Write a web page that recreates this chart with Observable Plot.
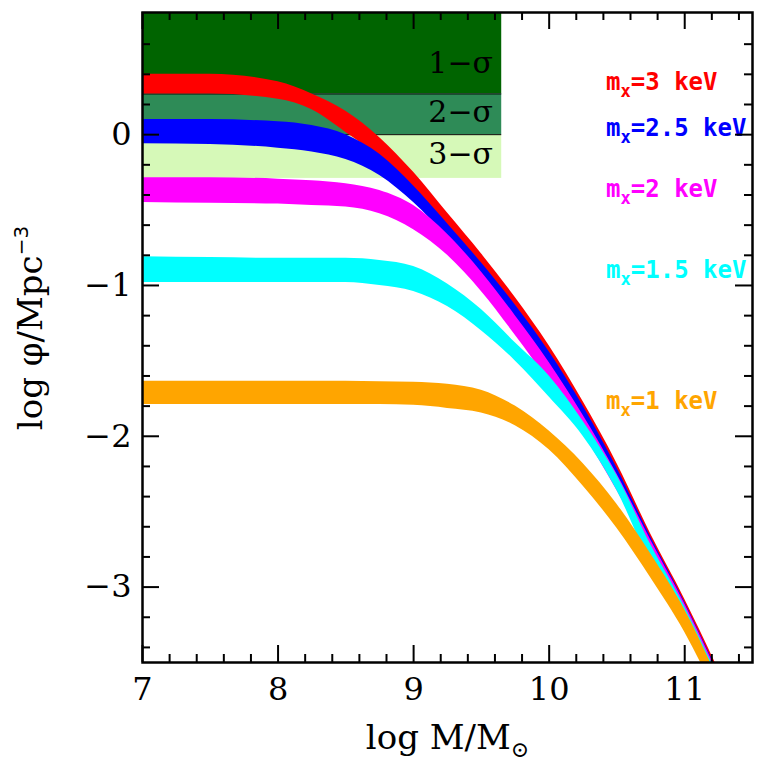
<!DOCTYPE html>
<html>
<head>
<meta charset="utf-8">
<script src="https://cdn.jsdelivr.net/npm/d3@7"></script>
<script src="https://cdn.jsdelivr.net/npm/@observablehq/plot@0.6"></script>
<style>
  html, body { margin: 0; padding: 0; background: #fff; }
</style>
</head>
<body>
<div id="chart"></div>
<script>
// ---- data ----
const logM = [7, 7.5, 8, 8.25, 8.5, 8.75, 9, 9.25, 9.5, 9.75, 10, 10.25, 10.5, 10.75, 11, 11.25, 11.5];

// m_x = 3 keV
const phi3Hi  = [0.40, 0.40, 0.35, 0.27, 0.155, -0.02, -0.25, -0.52, -0.79, -1.08, -1.40, -1.77, -2.18, -2.65, -3.08, -3.55, -4.05];
const phi3Lo  = [0.27, 0.27, 0.235, 0.165, 0.015, -0.15, -0.38, -0.64, -0.90, -1.18, -1.48, -1.83, -2.23, -2.68, -3.12, -3.59, -4.09];
// m_x = 2.5 keV
const phi25Hi = [0.10, 0.10, 0.085, 0.06, 0.0, -0.13, -0.34, -0.59, -0.85, -1.13, -1.44, -1.80, -2.21, -2.67, -3.10, -3.57, -4.07];
const phi25Lo = [-0.06, -0.065, -0.09, -0.115, -0.165, -0.27, -0.45, -0.68, -0.92, -1.21, -1.52, -1.87, -2.27, -2.71, -3.14, -3.61, -4.11];
// m_x = 2 keV
const phi2Hi  = [-0.285, -0.285, -0.295, -0.305, -0.325, -0.37, -0.47, -0.66, -0.91, -1.20, -1.51, -1.86, -2.25, -2.69, -3.11, -3.58, -4.08];
const phi2Lo  = [-0.45, -0.455, -0.46, -0.47, -0.48, -0.525, -0.63, -0.80, -1.04, -1.33, -1.64, -1.98, -2.36, -2.78, -3.19, -3.66, -4.16];
// m_x = 1.5 keV
const phi15Hi = [-0.81, -0.815, -0.82, -0.82, -0.82, -0.835, -0.875, -0.99, -1.16, -1.38, -1.60, -1.90, -2.26, -2.72, -3.13, -3.60, -4.11];
const phi15Lo = [-0.98, -0.98, -0.98, -0.98, -0.98, -1.00, -1.04, -1.14, -1.30, -1.50, -1.74, -2.00, -2.36, -2.85, -3.25, -3.72, -4.23];
// m_x = 1 keV
const phi1Hi  = [-1.635, -1.635, -1.635, -1.635, -1.635, -1.638, -1.642, -1.655, -1.695, -1.80, -1.965, -2.18, -2.45, -2.78, -3.15, -3.62, -4.15];
const phi1Lo  = [-1.79, -1.79, -1.79, -1.79, -1.79, -1.79, -1.795, -1.815, -1.845, -1.93, -2.09, -2.33, -2.61, -2.94, -3.30, -3.75, -4.28];

const massNames  = ["mx=3 keV", "mx=2.5 keV", "mx=2 keV", "mx=1.5 keV", "mx=1 keV"];
const massColors = ["#ff0000", "#0000ff", "#ff00ff", "#00ffff", "#ffa500"];
const massLabelX = 10.42;
const massLabelY = [0.347, 0.043, -0.363, -0.90, -1.77];

// observational constraint regions
const sigmaNames  = ["1\u2212\u03c3", "2\u2212\u03c3", "3\u2212\u03c3"];
const sigmaTop    = [1.0, 0.27, 0.0];
const sigmaBottom = [0.27, 0.0, -0.29];
const sigmaColors = ["#006400", "#2e8b57", "#d6f9b8"];
const sigmaXmin = 7, sigmaXmax = 9.65;
const sigmaLabelX = 9.586;
const sigmaLabelY = [0.474, 0.146, -0.13];
const sigmaEdges = [0.27, 0.0];

// axes
const xMajor = [7, 8, 9, 10, 11];
const xMinor = [7.2, 7.4, 7.6, 7.8, 8.2, 8.4, 8.6, 8.8, 9.2, 9.4, 9.6, 9.8, 10.2, 10.4, 10.6, 10.8, 11.2, 11.4];
const yMajor = [-3, -2, -1, 0];
const yMinor = [-3.4, -3.2, -2.8, -2.6, -2.4, -2.2, -1.8, -1.6, -1.4, -1.2, -0.8, -0.6, -0.4, -0.2, 0.2, 0.4, 0.6];
const xTitle = "log M/M\u2299";

// ---- layout ----
const W = 758, H = 770;
const mL = 142, mR = 6, mT = 12, mB = 108;
const innerW = W - mL - mR, innerH = H - mT - mB;
const majorLen = 17, minorLen = 8;

const hiSets = [phi3Hi, phi25Hi, phi2Hi, phi15Hi, phi1Hi];
const loSets = [phi3Lo, phi25Lo, phi2Lo, phi15Lo, phi1Lo];
const bandSeries = hiSets.map((hi, k) => ({
  color: massColors[k],
  rows: logM.map((x, i) => ({x, hi: hi[i], lo: loSets[k][i]}))
}));

const sigmaRows = sigmaNames.map((name, i) => ({name, top: sigmaTop[i], bottom: sigmaBottom[i], color: sigmaColors[i], lx: sigmaLabelX, ly: sigmaLabelY[i]}));
const massRows = massNames.map((name, i) => ({name, x: massLabelX, y: massLabelY[i], color: massColors[i]}));

const fmt = d => (d < 0 ? "\u2212" + Math.abs(d) : String(d));
const serif = "DejaVu Serif";

const marks = [];
sigmaRows.forEach(s => {
  marks.push(Plot.rect([s], {x1: sigmaXmin, x2: sigmaXmax, y1: "bottom", y2: "top", fill: s.color, clip: true}));
});
marks.push(Plot.ruleY(sigmaEdges, {x1: sigmaXmin, x2: sigmaXmax, stroke: "#000", strokeWidth: 1}));
bandSeries.forEach(b => {
  marks.push(Plot.areaY(b.rows, {x: "x", y1: "lo", y2: "hi", fill: b.color, curve: "monotone-x", clip: true}));
});
marks.push(Plot.text(sigmaRows, {x: "lx", y: "ly", text: "name", textAnchor: "end", fontFamily: serif, fontSize: 30, fill: "#000"}));
massRows.forEach(m => {
  marks.push(Plot.text([m], {x: "x", y: "y", text: "name", textAnchor: "start", fontFamily: "DejaVu Sans Mono", fontWeight: "bold", fontSize: 24, fill: m.color}));
});
marks.push(
  Plot.ruleX(xMajor, {x: d => d, insetTop: innerH - majorLen, stroke: "#000", strokeWidth: 2}),
  Plot.ruleX(xMinor, {x: d => d, insetTop: innerH - minorLen, stroke: "#000", strokeWidth: 2}),
  Plot.ruleX(xMajor, {x: d => d, insetBottom: innerH - majorLen, stroke: "#000", strokeWidth: 2}),
  Plot.ruleX(xMinor, {x: d => d, insetBottom: innerH - minorLen, stroke: "#000", strokeWidth: 2}),
  Plot.ruleY(yMajor, {y: d => d, insetRight: innerW - majorLen, stroke: "#000", strokeWidth: 2}),
  Plot.ruleY(yMinor, {y: d => d, insetRight: innerW - minorLen, stroke: "#000", strokeWidth: 2}),
  Plot.ruleY(yMajor, {y: d => d, insetLeft: innerW - majorLen, stroke: "#000", strokeWidth: 2}),
  Plot.ruleY(yMinor, {y: d => d, insetLeft: innerW - minorLen, stroke: "#000", strokeWidth: 2}),
  Plot.frame({stroke: "#000", strokeWidth: 2.5})
);
marks.push(
  Plot.text(xMajor, {x: d => d, text: d => fmt(d), frameAnchor: "bottom", lineAnchor: "top", dy: 15, fontFamily: serif, fontSize: 32, fill: "#000"}),
  Plot.text(yMajor, {y: d => d, text: d => fmt(d), frameAnchor: "left", textAnchor: "end", dx: -11, fontFamily: serif, fontSize: 32, fill: "#000"}),
  Plot.text([xTitle], {text: d => d, frameAnchor: "bottom", dy: 86, fontFamily: serif, fontSize: 34, fill: "#000"})
);

const chart = Plot.plot({
  width: W, height: H,
  marginLeft: mL, marginRight: mR, marginTop: mT, marginBottom: mB,
  x: {domain: [7, 11.5], axis: null},
  y: {domain: [-3.5, 0.81], axis: null},
  style: {background: "#fff", overflow: "visible"},
  marks
});
document.getElementById("chart").appendChild(chart);

// sub/superscripts as real text spans
d3.select(chart).selectAll("text").each(function() {
  const t = this.textContent;
  const sel = d3.select(this);
  let m;
  if ((m = /^mx(=.*)$/.exec(t))) {
    sel.text(null);
    sel.append("tspan").text("m");
    sel.append("tspan").attr("dy", 7).attr("font-size", 17).text("x");
    sel.append("tspan").attr("dy", -7).text(m[1]);
  } else if (t === xTitle) {
    sel.text(null);
    sel.append("tspan").text("log M/M");
    sel.append("tspan").attr("dy", 8).attr("font-size", 22).text("\u2299");
  }
});

// y-axis title (rotated), with superscript
const yt = d3.select(chart).append("text")
  .attr("transform", `translate(${mL - 100},${(mT + H - mB) / 2 - 9}) rotate(-90)`)
  .attr("text-anchor", "middle")
  .attr("font-family", serif)
  .attr("font-size", 34)
  .attr("fill", "#000");
yt.append("tspan").text("log \u03c6/Mpc");
yt.append("tspan").attr("dy", -14).attr("font-size", 20).attr("font-family", "DejaVu Sans").text("\u22123");
</script>
</body>
</html>
